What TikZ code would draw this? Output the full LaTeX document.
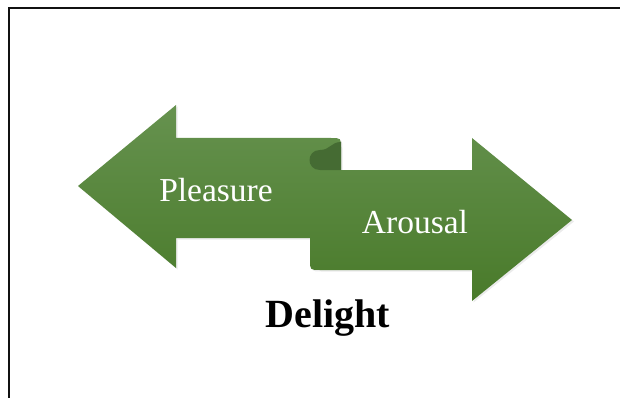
\documentclass[tikz,border=0pt]{standalone}
\usepackage{fontspec}
\setmainfont{Liberation Serif}
\usepackage{xcolor}
\usepackage{tikz}
\definecolor{DLTop}{HTML}{66924F}
\definecolor{DLBottom}{HTML}{497A2A}
\definecolor{DLCurl}{HTML}{456B33}
\definecolor{DLFrame}{HTML}{111111}

\begin{document}
\begin{tikzpicture}[x=1pt,y=-1pt,
  lbl/.style={text=white,font=\fontsize{33.5}{40}\selectfont,inner sep=0pt},
  ttl/.style={text=black,font=\bfseries\fontsize{40}{46}\selectfont,inner sep=0pt}]
\path[use as bounding box] (0,0) rectangle (620,398);
\draw[DLFrame,line width=2pt] (9,400) -- (9,8) -- (622,8);
\fill[black,opacity=0.08] (79.5,187.5) -- (177.5,106.5) -- (177.5,139.5) -- (332.5,139.5) .. controls (342.5,139.5) .. (342.5,149.5) -- (342.5,171.5) -- (473.5,171.5) -- (473.5,139.5) -- (574,221.5) -- (473.5,302.5) -- (473.5,271.5) -- (321.5,271.5) .. controls (311.5,271.5) .. (311.5,261.5) -- (311.5,239.5) -- (177.5,239.5) -- (177.5,269.5) -- cycle;
\shade[top color=DLTop,bottom color=DLBottom] (78,186) -- (176,105) -- (176,138) -- (331,138) .. controls (341,138) .. (341,148) -- (341,170) -- (472,170) -- (472,138) -- (572,220) -- (472,301) -- (472,270) -- (320,270) .. controls (310,270) .. (310,260) -- (310,238) -- (176,238) -- (176,268) -- cycle;
\fill[DLCurl] (341,142) .. controls (331,142) and (330,150) .. (320,150) .. controls (306,150) and (306,170) .. (320,170) -- (341,170) -- cycle;
\node[lbl] (pleasure) at (216,190) {Pleasure};
\node[lbl] (arousal) at (415,222) {Arousal};
\node[ttl] (delight) at (328,318) {Delight};
\end{tikzpicture}
\end{document}
